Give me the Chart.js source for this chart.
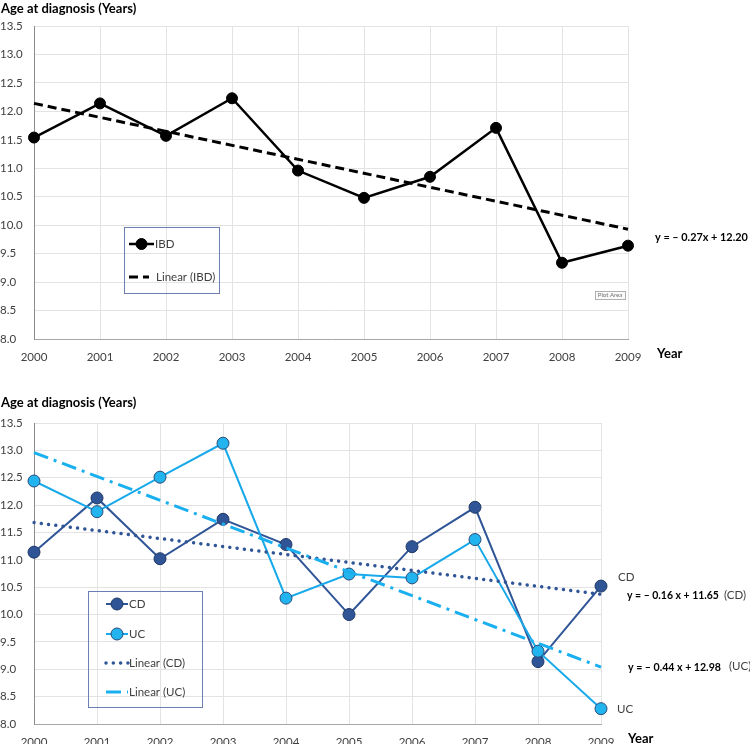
<!DOCTYPE html>
<html><head><meta charset="utf-8">
<script src="https://cdn.jsdelivr.net/npm/chart.js@4"></script>
<style>
html,body{margin:0;padding:0;background:#fff;}
#wrap{position:relative;width:750px;height:744px;overflow:hidden;}
canvas{position:absolute;left:0;}
</style></head><body>
<div id="wrap">
<canvas id="c1" width="750" height="370" style="top:0;width:750px;height:370px"></canvas>
<canvas id="c2" width="750" height="374" style="top:370px;width:750px;height:374px"></canvas>
</div>
<script>
// ---- data ----
const years = ['2000','2001','2002','2003','2004','2005','2006','2007','2008','2009'];
const ibd = [11.54, 12.14, 11.57, 12.23, 10.96, 10.48, 10.85, 11.71, 9.34, 9.64];
const ibdTrend = [12.14, 9.93];   // trend line values at 2000 and 2009
const cd = [11.14, 12.13, 11.02, 11.74, 11.28, 10.00, 11.24, 11.96, 9.14, 10.52];
const uc = [12.44, 11.88, 12.51, 13.13, 10.30, 10.74, 10.67, 11.37, 9.33, 8.28];
const cdTrend = [11.68, 10.37];
const ucTrend = [12.96, 9.04];
const yMin = 8.0, yMax = 13.5, yStep = 0.5;
const titleText = 'Age at diagnosis (Years)';
const xTitle = 'Year';
const eqIBD = 'y = \u2013 0.27x + 12.20';
const eqCD = 'y = \u2013 0.16 x + 11.65';
const eqUC = 'y = \u2013 0.44 x + 12.98';

const FONT = 'Lato, "Open Sans", sans-serif';
const TXT = '#404040';

function trendSeries(ends){
  return years.map((_, i) => i === 0 ? ends[0] : (i === years.length - 1 ? ends[1] : null));
}

function scales(axisH){
  return {
    x: { type:'category', offset:false,
      grid:{color:'#e3e3e3', drawTicks:false, offset:false},
      border:{color:'#a6a6a6', width:1},
      ticks:{color:TXT, font:{family:FONT, size:11.5}, padding:11, maxRotation:0, autoSkip:false},
      afterFit(s){ s.height = axisH; } },
    y: { min:yMin, max:yMax,
      grid:{color:'#e3e3e3', drawTicks:false},
      border:{color:'#8c8c8c', width:1},
      ticks:{stepSize:yStep, color:TXT, font:{family:FONT, size:11.5}, crossAlign:'far', padding:2,
        callback:v => Number(v).toFixed(1)},
      afterFit(s){ s.width = 34; } }
  };
}

function text(ctx, t, x, y, font, color, align){
  ctx.font = font; ctx.fillStyle = color || TXT;
  ctx.textAlign = align || 'left'; ctx.textBaseline = 'middle';
  ctx.fillText(t, x, y);
}
// draw bold text sized so that it spans a given width
function fitText(ctx, t, x, y, width, color){
  ctx.font = 'bold 12px ' + FONT;
  const w = ctx.measureText(t).width;
  const size = Math.min(13, 12 * width / w);
  text(ctx, t, x, y, 'bold ' + size.toFixed(2) + 'px ' + FONT, color || '#000');
}

function legendSample(ctx, ds, x0, x1, y){
  ctx.save();
  ctx.strokeStyle = ds.borderColor; ctx.lineWidth = ds.borderWidth;
  ctx.setLineDash(ds.borderDash || []);
  ctx.lineCap = ds.borderCapStyle || 'butt';
  ctx.beginPath(); ctx.moveTo(x0, y); ctx.lineTo(x1, y); ctx.stroke();
  ctx.setLineDash([]);
  if (ds.pointRadius > 0){
    ctx.beginPath(); ctx.arc((x0 + x1)/2, y, ds.pointRadius, 0, Math.PI*2);
    ctx.fillStyle = ds.pointBackgroundColor; ctx.fill();
    ctx.lineWidth = ds.pointBorderWidth; ctx.strokeStyle = ds.pointBorderColor; ctx.stroke();
  }
  ctx.restore();
}

const common = {
  responsive:false, animation:false, events:[],
  plugins:{legend:{display:false}, tooltip:{enabled:false}},
  elements:{line:{tension:0}}
};

// ---- chart 1 ----
const ds1 = [
  {label:'IBD', data:ibd, borderColor:'#000', borderWidth:2.5, pointRadius:5.5,
   pointBackgroundColor:'#000', pointBorderColor:'#000', pointBorderWidth:1, order:2},
  {label:'Linear (IBD)', data:trendSeries(ibdTrend), spanGaps:true, borderColor:'#000', borderWidth:3,
   borderDash:[9,5], pointRadius:0, order:1}
];
new Chart(document.getElementById('c1'), {
  type:'line',
  data:{labels:years, datasets:ds1},
  options:Object.assign({}, common, {
    layout:{padding:{top:26, right:122, left:0, bottom:0}},
    scales:scales(31)
  }),
  plugins:[{id:'annot1', afterDraw(chart){
    const ctx = chart.ctx; ctx.save();
    fitText(ctx, titleText, 1, 9, 137);
    text(ctx, xTitle, 657, 354, 'bold 13px ' + FONT, '#000');
    fitText(ctx, eqIBD, 655, 237, 93);
    // legend box
    ctx.strokeStyle = '#6c7fb4'; ctx.lineWidth = 1;
    ctx.strokeRect(124.5, 227.5, 95, 66);
    legendSample(ctx, ds1[0], 129, 154, 244);
    text(ctx, 'IBD', 155, 244, '11.5px ' + FONT, TXT);
    legendSample(ctx, ds1[1], 129, 149, 277);
    text(ctx, 'Linear (IBD)', 156, 277, '11.5px ' + FONT, TXT);
    // "Plot Area" tag
    ctx.fillStyle = '#fafafa'; ctx.fillRect(595, 291, 30, 8);
    ctx.strokeStyle = '#b0b0b0'; ctx.strokeRect(595.5, 291.5, 30, 8);
    text(ctx, 'Plot Area', 610, 295.5, '6px ' + FONT, '#707070', 'center');
    ctx.restore();
  }}]
});

// ---- chart 2 ----
const ds2 = [
  {label:'CD', data:cd, borderColor:'#2f5597', borderWidth:2, pointRadius:6,
   pointBackgroundColor:'#2f5597', pointBorderColor:'#1f3864', pointBorderWidth:1, order:4},
  {label:'UC', data:uc, borderColor:'#17a9ea', borderWidth:2, pointRadius:6,
   pointBackgroundColor:'#22b4ee', pointBorderColor:'#2a4a78', pointBorderWidth:1, order:3},
  {label:'Linear (CD)', data:trendSeries(cdTrend), spanGaps:true, borderColor:'#2f5597', borderWidth:3.5,
   borderDash:[0.01,7.3], borderCapStyle:'round', pointRadius:0, order:2},
  {label:'Linear (UC)', data:trendSeries(ucTrend), spanGaps:true, borderColor:'#1ab0f0', borderWidth:3,
   borderDash:[15,6,3,6], pointRadius:0, order:1}
];
new Chart(document.getElementById('c2'), {
  type:'line',
  data:{labels:years, datasets:ds2},
  options:Object.assign({}, common, {
    layout:{padding:{top:53, right:149, left:0, bottom:0}},
    scales:scales(20)
  }),
  plugins:[{id:'annot2', afterDraw(chart){
    const ctx = chart.ctx; ctx.save();
    fitText(ctx, titleText, 1, 33, 137);
    text(ctx, xTitle, 628, 369, 'bold 13px ' + FONT, '#000');
    text(ctx, 'CD', 618, 207, '11.5px ' + FONT, TXT);
    fitText(ctx, eqCD, 627, 226, 92);
    text(ctx, '(CD)', 724, 225, '11.5px ' + FONT, TXT);
    fitText(ctx, eqUC, 628, 298, 93);
    text(ctx, '(UC)', 729, 296, '11.5px ' + FONT, TXT);
    text(ctx, 'UC', 617, 339, '11.5px ' + FONT, TXT);
    // legend box
    ctx.strokeStyle = '#6c7fb4'; ctx.lineWidth = 1;
    ctx.strokeRect(88.5, 221.5, 114, 116);
    const rows = [234, 264, 293, 322];
    ds2.forEach((d, i) => {
      legendSample(ctx, d, 106, 128, rows[i]);
      text(ctx, d.label, 129, rows[i], '11.5px ' + FONT, TXT);
    });
    ctx.restore();
  }}]
});
</script>
</body></html>
